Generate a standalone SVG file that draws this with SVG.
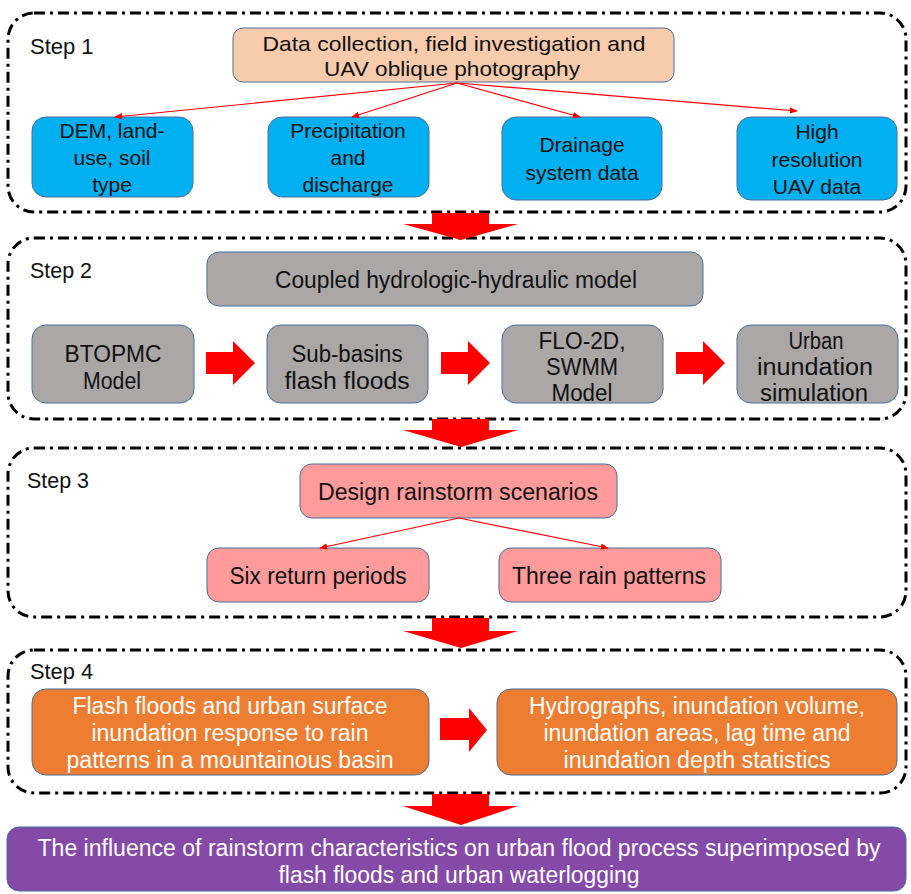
<svg xmlns="http://www.w3.org/2000/svg" width="911" height="894" viewBox="0 0 911 894">
<defs>
<style>
.frame{fill:none;stroke:#000;stroke-width:3;stroke-dasharray:11 5 3 5}
.box{stroke:#4a6f9a;stroke-width:1}
.peach{fill:#F8CBAD}
.blue{fill:#00B0F0}
.gray{fill:#ABA7A7}
.pink{fill:#FF9B9B}
.orange{fill:#ED7D31}
.purple{fill:#8549A8}
text{font-family:"Liberation Sans",Arial,sans-serif;font-size:21px;fill:#111;text-anchor:middle}
.c{font-size:23px}
.lbl{text-anchor:start;font-size:22px}
.w{fill:#fff}
.thin{stroke:#FF0000;stroke-width:1.2;fill:none;marker-end:url(#ah)}
.block{fill:#FF0000}
</style>
<marker id="ah" viewBox="0 0 10 10" refX="9" refY="5" markerWidth="8" markerHeight="8" markerUnits="userSpaceOnUse" orient="auto">
<path d="M0,1 L10,5 L0,9 z" fill="#FF0000"/>
</marker>
</defs>

<g id="frames">
<rect id="step1-frame" class="frame" x="8" y="13" width="898" height="199" rx="26"/>
<rect id="step2-frame" class="frame" x="8" y="238" width="898" height="181" rx="26"/>
<rect id="step3-frame" class="frame" x="8" y="448" width="898" height="169" rx="26"/>
<rect id="step4-frame" class="frame" x="8" y="650" width="898" height="143" rx="26"/>
</g>

<g id="labels">
<text class="lbl" x="30" y="54">Step 1</text>
<text class="lbl c" x="30" y="278" textLength="62" lengthAdjust="spacingAndGlyphs">Step 2</text>
<text class="lbl c" x="27" y="488" textLength="62" lengthAdjust="spacingAndGlyphs">Step 3</text>
<text class="lbl c" x="30" y="679" textLength="63" lengthAdjust="spacingAndGlyphs">Step 4</text>
</g>

<g id="n-data">
<rect class="box peach" x="233" y="28" width="441" height="54" rx="10"/>
<text x="454" y="51" textLength="383" lengthAdjust="spacingAndGlyphs">Data collection, field investigation and</text>
<text x="452" y="76" textLength="256" lengthAdjust="spacingAndGlyphs">UAV  oblique  photography</text>
</g>
<g id="n-dem">
<rect class="box blue" x="32" y="117" width="161" height="80" rx="14"/>
<text x="112" y="138">DEM, land-</text>
<text x="112" y="165">use, soil</text>
<text x="112" y="192">type</text>
</g>
<g id="n-precip">
<rect class="box blue" x="268" y="117" width="161" height="80" rx="14"/>
<text x="348" y="138">Precipitation</text>
<text x="348" y="165">and</text>
<text x="348" y="192">discharge</text>
</g>
<g id="n-drain">
<rect class="box blue" x="502" y="117" width="160" height="83" rx="14"/>
<text x="582" y="152">Drainage</text>
<text x="582" y="180">system data</text>
</g>
<g id="n-uav">
<rect class="box blue" x="737" y="117" width="160" height="83" rx="14"/>
<text x="817" y="139">High</text>
<text x="817" y="167">resolution</text>
<text x="817" y="194">UAV  data</text>
</g>

<g id="n-coupled">
<rect class="box gray" x="207" y="252" width="496" height="54" rx="12"/>
<text class="c" x="456" y="288" textLength="362" lengthAdjust="spacingAndGlyphs">Coupled  hydrologic-hydraulic  model</text>
</g>
<g id="n-btopmc">
<rect class="box gray" x="32" y="325" width="162" height="78" rx="14"/>
<text class="c" x="113" y="362" textLength="97" lengthAdjust="spacingAndGlyphs">BTOPMC</text>
<text class="c" x="112" y="389" textLength="58" lengthAdjust="spacingAndGlyphs">Model</text>
</g>
<g id="n-subbasins">
<rect class="box gray" x="267" y="325" width="161" height="78" rx="14"/>
<text class="c" x="347" y="362" textLength="111" lengthAdjust="spacingAndGlyphs">Sub-basins</text>
<text class="c" x="347" y="389" textLength="125" lengthAdjust="spacingAndGlyphs">flash floods</text>
</g>
<g id="n-flo2d">
<rect class="box gray" x="502" y="325" width="161" height="78" rx="14"/>
<text class="c" x="582" y="349" textLength="87" lengthAdjust="spacingAndGlyphs">FLO-2D,</text>
<text class="c" x="582" y="375" textLength="72" lengthAdjust="spacingAndGlyphs">SWMM</text>
<text class="c" x="582" y="401" textLength="61" lengthAdjust="spacingAndGlyphs">Model</text>
</g>
<g id="n-urban">
<rect class="box gray" x="737" y="325" width="161" height="78" rx="14"/>
<text class="c" x="816" y="349" textLength="55" lengthAdjust="spacingAndGlyphs">Urban</text>
<text class="c" x="815" y="375" textLength="116" lengthAdjust="spacingAndGlyphs">inundation</text>
<text class="c" x="814" y="401" textLength="108" lengthAdjust="spacingAndGlyphs">simulation</text>
</g>

<g id="n-design">
<rect class="box pink" x="300" y="464" width="317" height="54" rx="12"/>
<text class="c" x="458" y="500" textLength="280" lengthAdjust="spacingAndGlyphs">Design rainstorm scenarios</text>
</g>
<g id="n-six">
<rect class="box pink" x="207" y="548" width="222" height="54" rx="12"/>
<text class="c" x="318" y="584" textLength="177" lengthAdjust="spacingAndGlyphs">Six return periods</text>
</g>
<g id="n-three">
<rect class="box pink" x="499" y="548" width="222" height="54" rx="12"/>
<text class="c" x="609" y="584" textLength="194" lengthAdjust="spacingAndGlyphs">Three  rain patterns</text>
</g>

<g id="n-flash">
<rect class="box orange" x="32" y="689" width="397" height="86" rx="14"/>
<text class="c w" x="230" y="714" textLength="315" lengthAdjust="spacingAndGlyphs">Flash floods and urban  surface</text>
<text class="c w" x="230" y="741" textLength="277" lengthAdjust="spacingAndGlyphs">inundation  response to rain</text>
<text class="c w" x="230" y="768" textLength="327" lengthAdjust="spacingAndGlyphs">patterns in a mountainous  basin</text>
</g>
<g id="n-hydro">
<rect class="box orange" x="497" y="689" width="400" height="86" rx="14"/>
<text class="c w" x="697" y="714" textLength="336" lengthAdjust="spacingAndGlyphs">Hydrographs,  inundation  volume,</text>
<text class="c w" x="697" y="741" textLength="307" lengthAdjust="spacingAndGlyphs">inundation  areas, lag time and</text>
<text class="c w" x="697" y="768" textLength="267" lengthAdjust="spacingAndGlyphs">inundation  depth statistics</text>
</g>

<g id="n-result">
<rect class="box purple" x="7" y="827" width="899" height="64" rx="12"/>
<text class="c w" x="459" y="856" textLength="843" lengthAdjust="spacingAndGlyphs">The  influence  of rainstorm  characteristics on urban  flood  process superimposed  by</text>
<text class="c w" x="459" y="883" textLength="361" lengthAdjust="spacingAndGlyphs">flash floods and urban  waterlogging</text>
</g>

<g id="connectors">
<line class="thin" x1="457" y1="83" x2="115" y2="117"/>
<line class="thin" x1="457" y1="83" x2="352" y2="117"/>
<line class="thin" x1="457" y1="83" x2="580" y2="117"/>
<line class="thin" x1="457" y1="83" x2="797" y2="111"/>
<line class="thin" x1="459" y1="518" x2="320" y2="548"/>
<line class="thin" x1="459" y1="518" x2="608" y2="548"/>
<path class="block" d="M432,213 H489 V224 H518 L461,240 L403,224 H432 Z"/>
<path class="block" d="M432,419 H489 V430 H518 L461,447 L403,430 H432 Z"/>
<path class="block" d="M432,618 H489 V631 H518 L461,648 L403,631 H432 Z"/>
<path class="block" d="M432,794 H489 V806 H518 L461,825 L403,806 H432 Z"/>
<path class="block" d="M206,352 H233 V341 L255,363 L233,385 V374 H206 Z"/>
<path class="block" d="M441,352 H468 V341 L490,363 L468,385 V374 H441 Z"/>
<path class="block" d="M676,352 H703 V341 L725,363 L703,385 V374 H676 Z"/>
<path class="block" d="M440,718 H469 V708 L487,730 L469,752 V740 H440 Z"/>
</g>
</svg>
